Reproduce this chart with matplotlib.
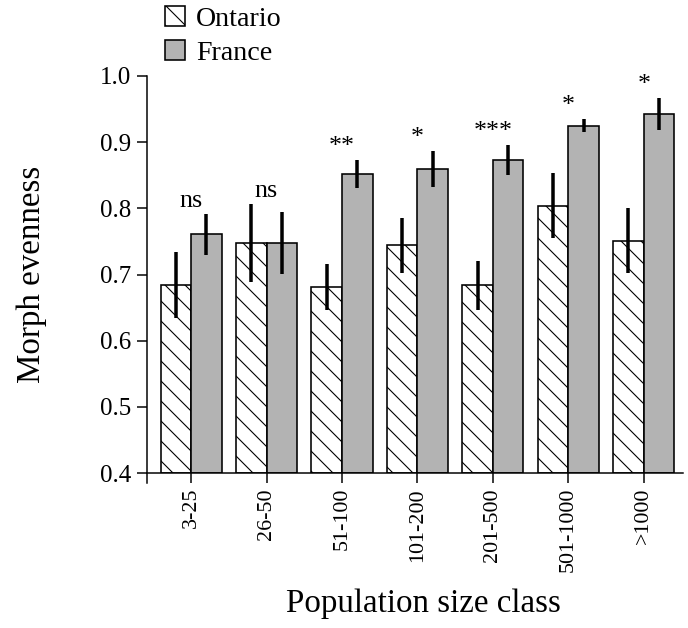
import numpy as np
import matplotlib
matplotlib.use('Agg')
import matplotlib.pyplot as plt

# values
size_classes = ['3-25', '26-50', '51-100', '101-200', '201-500', '501-1000', '>1000']
ontario = [0.684, 0.747, 0.681, 0.744, 0.684, 0.804, 0.751]
ontario_err = [0.050, 0.059, 0.035, 0.041, 0.037, 0.049, 0.049]
france = [0.761, 0.748, 0.852, 0.859, 0.873, 0.925, 0.942]
france_err = [0.031, 0.047, 0.021, 0.027, 0.023, 0.010, 0.024]
signif = ['ns', 'ns', '**', '*', '***', '*', '*']

DPI = 60  # hatch spacing follows dpi (6 lines per inch)
def pt(px):
    # pixel size -> points at this dpi
    return px * 72.0 / DPI

plt.rcParams['font.family'] = ['Liberation Serif', 'DejaVu Serif']
plt.rcParams['hatch.linewidth'] = pt(1.1)

W, H = 688, 628
fig = plt.figure(figsize=(W / DPI, H / DPI), dpi=DPI)
ax = fig.add_axes([147 / W, 1 - 473 / H, (683 - 147) / W, (473 - 76) / H])

x = np.arange(len(size_classes))
w = 0.405
base = 0.4

b1 = ax.bar(x - w / 2, np.array(ontario) - base, w, bottom=base, color='white',
            edgecolor='black', linewidth=pt(1.6), hatch='\\', label='Ontario', zorder=2)
b2 = ax.bar(x + w / 2, np.array(france) - base, w, bottom=base, color='#b3b3b3',
            edgecolor='black', linewidth=pt(1.6), label='France', zorder=2)
ax.errorbar(x - w / 2, ontario, yerr=ontario_err, fmt='none', ecolor='black',
            elinewidth=pt(3.5), capsize=0, zorder=3)
ax.errorbar(x + w / 2, france, yerr=france_err, fmt='none', ecolor='black',
            elinewidth=pt(3.5), capsize=0, zorder=3)

# significance marks above each pair
for i, s in enumerate(signif):
    top = max(ontario[i] + ontario_err[i], france[i] + france_err[i])
    ax.annotate(s, xy=(i, top), xytext=(0, pt(2)), textcoords='offset points',
                ha='center', va='bottom', fontsize=pt(26))

ax.set_xlim(-0.584, 6.52)
ax.set_ylim(0.4, 1.0)
ax.set_yticks(np.arange(0.4, 1.01, 0.1))
ax.set_yticklabels(['%.1f' % v for v in np.arange(0.4, 1.01, 0.1)])
ax.set_xticks(x)
ax.set_xticklabels(size_classes, rotation=90)
ax.tick_params(axis='y', direction='out', length=pt(10), width=pt(1.5), pad=pt(6),
               labelsize=pt(25))
ax.tick_params(axis='x', direction='out', length=pt(10), width=pt(1.5), pad=pt(5),
               labelsize=pt(22))

for side in ['top', 'right']:
    ax.spines[side].set_visible(False)
ax.spines['left'].set_linewidth(pt(1.5))
ax.spines['bottom'].set_linewidth(pt(1.5))
ax.spines['left'].set_bounds(0.385, 1.0)

ax.set_ylabel('Morph evenness', fontsize=pt(33))
ax.yaxis.set_label_coords(-0.187, 0.5)
ax.set_xlabel('Population size class', fontsize=pt(33))
ax.xaxis.set_label_coords(0.515, -0.292)

fig.legend(handles=[b1, b2], loc='upper left', bbox_to_anchor=(165 / W, 1 - 6 / H),
           frameon=False, fontsize=pt(28), handlelength=0.72, handleheight=0.72,
           handletextpad=0.4, labelspacing=0.3, borderpad=0, borderaxespad=0)

fig.savefig('out.png', dpi=DPI)
